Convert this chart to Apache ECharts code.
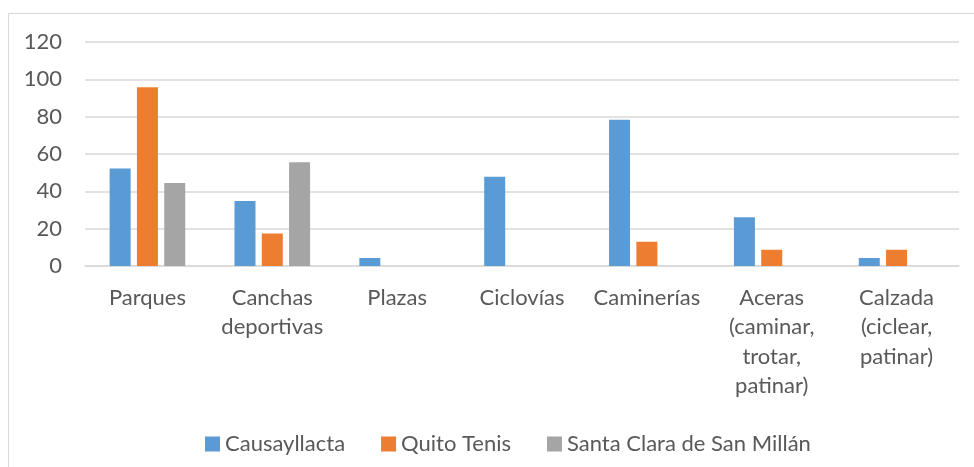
<!DOCTYPE html>
<html>
<head>
<meta charset="UTF-8">
<title>Espacios públicos</title>
<script type="text/javascript" src="https://cdn.jsdelivr.net/npm/echarts@6/dist/echarts.min.js"></script>
<style>
  html, body { margin: 0; padding: 0; background: #fff; }
</style>
</head>
<body>
    <div id="main" style="width: 974px;height:467px;"></div>
    <script type="text/javascript">
        // datos (porcentajes)
        var categorias = ['Parques', 'Canchas\ndeportivas', 'Plazas', 'Ciclovías', 'Caminerías',
                          'Aceras\n(caminar,\ntrotar,\npatinar)', 'Calzada\n(ciclear,\npatinar)'];
        var causayllacta = [52.2, 34.8, 4.3, 47.8, 78.3, 26.1, 4.3];
        var quitoTenis   = [95.7, 17.4, 0, 0, 13.0, 8.7, 8.7];
        var santaClara   = [44.4, 55.6, 0, 0, 0, 0, 0];
        var nombres = ['Causayllacta', 'Quito Tenis', 'Santa Clara de San Millán'];

        var fuente = 'Lato, "Liberation Sans", sans-serif';
        var gris = '#595959';

        var myChart = echarts.init(document.getElementById('main'));
        var option = {
            backgroundColor: '#ffffff',
            color: ['#5b9bd5', '#ed7d31', '#a5a5a5'],
            textStyle: { fontFamily: fuente },
            graphic: [{
                type: 'rect',
                shape: { x: 8.5, y: 13.5, width: 1000, height: 500 },
                style: { fill: 'none', stroke: '#d9d9d9', lineWidth: 1 },
                silent: true
            }],
            legend: {
                data: nombres,
                left: 200,
                top: 428,
                itemWidth: 15,
                itemHeight: 15,
                itemGap: 36,
                icon: 'rect',
                textStyle: { color: gris, fontSize: 22, fontFamily: fuente }
            },
            grid: { left: 85, right: 15, top: 42, bottom: 201 },
            xAxis: {
                type: 'category',
                data: categorias,
                axisTick: { show: false },
                axisLine: { lineStyle: { color: '#d9d9d9', width: 1.5 } },
                axisLabel: {
                    interval: 0,
                    color: gris,
                    fontSize: 22,
                    lineHeight: 29.5,
                    margin: 17,
                    fontFamily: fuente
                }
            },
            yAxis: {
                type: 'value',
                min: 0,
                max: 120,
                interval: 20,
                axisLine: { show: false },
                axisTick: { show: false },
                splitLine: { lineStyle: { color: '#d9d9d9', width: 1.5 } },
                axisLabel: { color: gris, fontSize: 22, margin: 23, fontFamily: fuente }
            },
            series: [{
                name: nombres[0],
                type: 'bar',
                barWidth: 21,
                barGap: '30%',
                data: causayllacta
            }, {
                name: nombres[1],
                type: 'bar',
                barWidth: 21,
                barGap: '30%',
                data: quitoTenis
            }, {
                name: nombres[2],
                type: 'bar',
                barWidth: 21,
                barGap: '30%',
                data: santaClara
            }]
        };
        myChart.setOption(option);
    </script>
</body>
</html>
